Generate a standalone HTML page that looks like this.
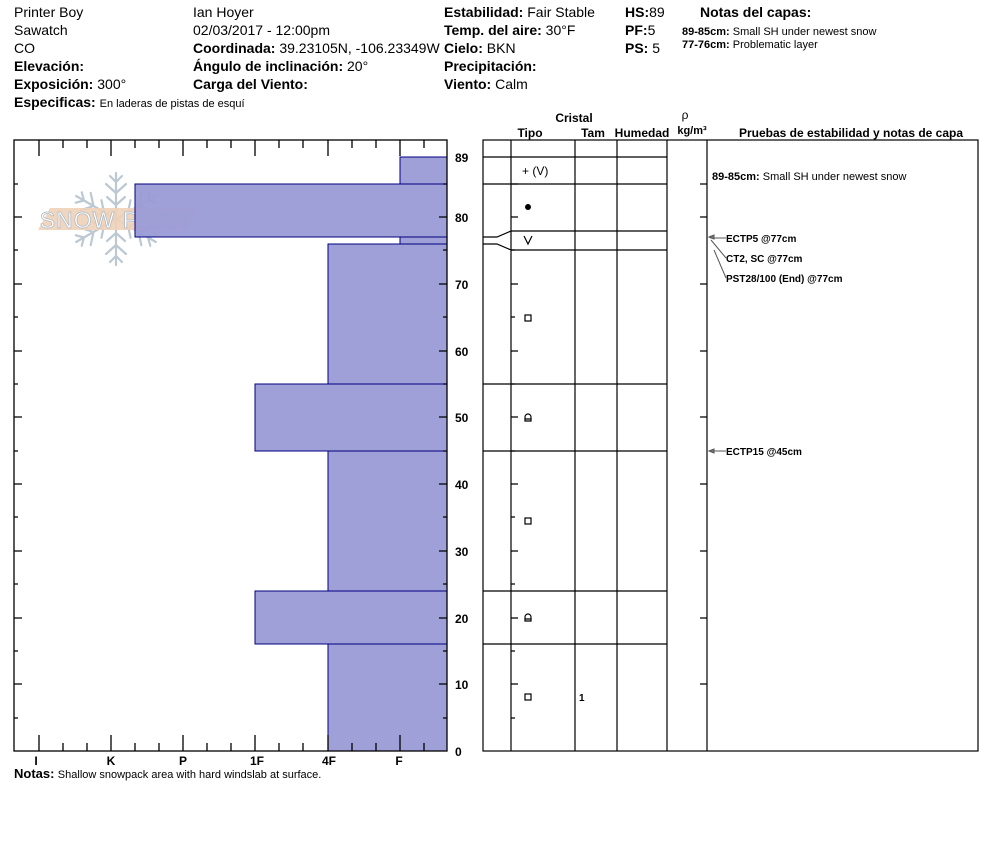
<!DOCTYPE html>
<html><head><meta charset="utf-8"><style>
body{margin:0;background:#fff;width:994px;height:840px;overflow:hidden}
svg{font-family:"Liberation Sans",sans-serif}
.b{font-weight:bold}
</style></head><body>
<svg width="994" height="840" viewBox="0 0 994 840" xmlns="http://www.w3.org/2000/svg">
<defs>
<g id="arm" stroke="#bcc8d2" stroke-width="2.2" fill="none" stroke-linecap="round">
<path d="M0,0V-46M0,-14l-9,-8M0,-14l9,-8M0,-26l-10,-9M0,-26l10,-9M0,-37l-6,-6M0,-37l6,-6"/>
</g>
</defs>
<g font-size="14" fill="#000">
<text x="14" y="17">Printer Boy</text>
<text x="14" y="35">Sawatch</text>
<text x="14" y="53">CO</text>
<text x="14" y="71" class="b">Elevación:</text>
<text x="14" y="89"><tspan class="b">Exposición:</tspan> 300°</text>
<text x="14" y="107"><tspan class="b">Especificas:</tspan> <tspan font-size="11">En laderas de pistas de esquí</tspan></text>
<text x="193" y="17">Ian Hoyer</text>
<text x="193" y="35">02/03/2017 - 12:00pm</text>
<text x="193" y="53"><tspan class="b">Coordinada:</tspan> 39.23105N, -106.23349W</text>
<text x="193" y="71"><tspan class="b">Ángulo de inclinación:</tspan> 20°</text>
<text x="193" y="89" class="b">Carga del Viento:</text>
<text x="444" y="17"><tspan class="b">Estabilidad:</tspan> Fair Stable</text>
<text x="444" y="35"><tspan class="b">Temp. del aire:</tspan> 30°F</text>
<text x="444" y="53"><tspan class="b">Cielo:</tspan> BKN</text>
<text x="444" y="71" class="b">Precipitación:</text>
<text x="444" y="89"><tspan class="b">Viento:</tspan>  Calm</text>
<text x="625" y="17"><tspan class="b">HS:</tspan>89</text>
<text x="625" y="35"><tspan class="b">PF:</tspan>5</text>
<text x="625" y="53"><tspan class="b">PS:</tspan> 5</text>
<text x="700" y="17" class="b">Notas del capas:</text>
</g>
<g font-size="11">
<text x="682" y="35"><tspan class="b">89-85cm:</tspan> Small SH under newest snow</text>
<text x="682" y="48"><tspan class="b">77-76cm:</tspan> Problematic layer</text>
</g>
<!-- logo -->
<g transform="translate(116,219)">
<use href="#arm"/>
<use href="#arm" transform="rotate(60)"/>
<use href="#arm" transform="rotate(120)"/>
<use href="#arm" transform="rotate(180)"/>
<use href="#arm" transform="rotate(240)"/>
<use href="#arm" transform="rotate(300)"/>
</g>
<polygon points="50,208 197,208 187,230 38,230" fill="#f0d2b8" opacity="0.9"/>
<text x="117" y="228" font-size="23" fill="#fff" text-anchor="middle" stroke="#aab6c0" stroke-width="0.7" letter-spacing="1">SNOW PILOT</text>
<!-- bars -->
<g fill="#9b9bd6" fill-opacity="0.95" stroke="#000080" stroke-width="1">
<rect x="400" y="157" width="47" height="27"/>
<rect x="135" y="184" width="312" height="53"/>
<rect x="400" y="237" width="47" height="7"/>
<rect x="328" y="244" width="119" height="140"/>
<rect x="255" y="384" width="192" height="67"/>
<rect x="328" y="451" width="119" height="140"/>
<rect x="255" y="591" width="192" height="53"/>
<rect x="328" y="644" width="119" height="107"/>
</g>
<g stroke="#000" stroke-width="1.3" fill="none">
<rect x="14" y="140" width="433" height="611"/>
<path d="M39,140v16M63,140v8M87,140v8M111,140v16M135,140v8M159,140v8M183,140v16M207,140v8M231,140v8M255,140v16M279,140v8M303,140v8M328,140v16M352,140v8M376,140v8M400,140v16M424,140v8
M39,751v-16M63,751v-8M87,751v-8M111,751v-16M135,751v-8M159,751v-8M183,751v-16M207,751v-8M231,751v-8M255,751v-16M279,751v-8M303,751v-8M328,751v-16M352,751v-8M376,751v-8M400,751v-16M424,751v-8
M14,184h4M14,217h8M14,250h4M14,284h8M14,317h4M14,351h8M14,384h4M14,417h8M14,451h4M14,484h8M14,517h4M14,551h8M14,584h4M14,618h8M14,651h4M14,684h8M14,718h4
M447,184h-4M447,217h-8M447,250h-4M447,284h-8M447,317h-4M447,351h-8M447,384h-4M447,417h-8M447,451h-4M447,484h-8M447,517h-4M447,551h-8M447,584h-4M447,618h-8M447,651h-4M447,684h-8M447,718h-4"/>
</g>
<g font-size="12" class="b" text-anchor="middle" font-weight="bold">
<text x="36" y="765">I</text><text x="111" y="765">K</text><text x="183" y="765">P</text>
<text x="257" y="765">1F</text><text x="329" y="765">4F</text><text x="399" y="765">F</text>
</g>
<g font-size="12" font-weight="bold">
<text x="455" y="162">89</text><text x="455" y="222">80</text><text x="455" y="289">70</text>
<text x="455" y="356">60</text><text x="455" y="422">50</text><text x="455" y="489">40</text>
<text x="455" y="556">30</text><text x="455" y="623">20</text><text x="455" y="689">10</text>
<text x="455" y="756">0</text>
</g>
<text x="14" y="778" font-size="12"><tspan font-weight="bold" font-size="13">Notas:</tspan> <tspan font-size="11">Shallow snowpack area with hard windslab at surface.</tspan></text>
<!-- right table -->
<g font-size="12" font-weight="bold" text-anchor="middle">
<text x="574" y="122">Cristal</text>
<text x="530" y="137">Tipo</text>
<text x="593" y="137">Tam</text>
<text x="642" y="137">Humedad</text>
<text x="685" y="119" font-weight="normal">ρ</text>
<text x="692" y="134" font-size="11">kg/m³</text>
<text x="851" y="137">Pruebas de estabilidad y notas de capa</text>
</g>
<g stroke="#000" stroke-width="1.2" fill="none">
<rect x="483" y="140" width="495" height="611"/>
<path d="M511,140V751M575,140V751M617,140V751M667,140V751M707,140V751"/>
<path d="M483,157H667M483,184H667M511,231H667M511,250H667M483,384H667M483,451H667M483,591H667M483,644H667"/>
<path d="M483,237H497L511,231M483,244H497L511,250"/>
<path d="M511,184h7M511,217h7M511,250h4M511,284h7M511,317h4M511,351h7M511,384h4M511,417h7M511,451h4M511,484h7M511,517h4M511,551h7M511,584h4M511,618h7M511,651h4M511,684h7M511,718h4
M707,184h-7M707,217h-7M707,284h-7M707,351h-7M707,417h-7M707,484h-7M707,551h-7M707,618h-7M707,684h-7"/>
<rect x="525" y="315" width="6" height="6"/><rect x="525" y="518" width="6" height="6"/><rect x="525" y="694" width="6" height="6"/>
<path d="M525,421v-4a3,3 0 0 1 6,0v4zM525,419h6M525,621v-4a3,3 0 0 1 6,0v4zM525,619h6"/>
<path d="M524,236l4,8l4,-8"/>
</g>
<circle cx="528" cy="207" r="3" fill="#000"/>
<text x="522" y="175" font-size="12">+ (V)</text>
<text x="579" y="701" font-size="10" font-weight="bold">1</text>
<g font-size="11">
<text x="712" y="180"><tspan font-weight="bold">89-85cm:</tspan> Small SH under newest snow</text>
</g>
<g font-size="10" font-weight="bold">
<text x="726" y="242">ECTP5 @77cm</text>
<text x="726" y="262">CT2, SC @77cm</text>
<text x="726" y="282">PST28/100 (End) @77cm</text>
<text x="726" y="455">ECTP15 @45cm</text>
</g>
<g stroke="#555" stroke-width="1" fill="#777">
<path d="M726,238H710M726,258L711,240M726,278L714,250M726,451H710"/>
<path d="M709,237l5,-2v4zM709,451l5,-2v4z"/>
</g>
</svg>
</body></html>
